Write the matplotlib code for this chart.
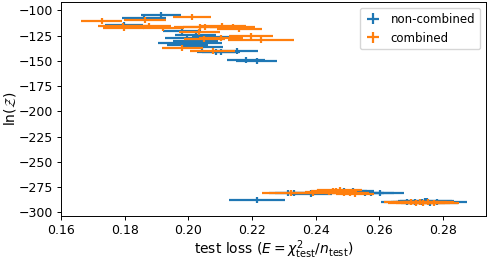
import matplotlib
matplotlib.use("Agg")
import matplotlib.pyplot as plt
import numpy as np

# non-combined (blue)
nc_x = [0.1913, 0.1860, 0.1797, 0.1981, 0.2023, 0.1997, 0.2081, 0.1965, 0.1997,
        0.2034, 0.2044, 0.2086, 0.2102, 0.2154, 0.2181, 0.2214, 0.2023,
        0.2215, 0.2312, 0.2333, 0.2385, 0.2490, 0.2517, 0.2553, 0.2574, 0.2601,
        0.2685, 0.2711, 0.2732, 0.2748, 0.2758, 0.2779, 0.2742]
nc_y = [-104.3, -107.5, -114.0, -120.4, -124.3, -127.0, -126.0, -132.4, -134.0,
        -132.4, -136.6, -141.5, -141.5, -139.8, -149.5, -150.2, -130.0,
        -287.8, -280.6, -280.6, -281.3, -279.0, -279.0, -280.6, -280.6, -280.6,
        -289.5, -289.3, -290.0, -289.0, -290.5, -289.5, -288.5]
nc_xerr = [0.0063, 0.0070, 0.0060, 0.0060, 0.0065, 0.0070, 0.0070, 0.0060, 0.0065,
           0.0070, 0.0065, 0.0060, 0.0060, 0.0065, 0.0060, 0.0065, 0.0070,
           0.0087, 0.0060, 0.0060, 0.0065, 0.0070, 0.0065, 0.0060, 0.0070, 0.0075,
           0.0080, 0.0075, 0.0080, 0.0085, 0.0090, 0.0095, 0.0085]
nc_yerr = [3.0] * len(nc_x)

# combined (orange)
c_x = [0.1728, 0.1864, 0.2011, 0.1795, 0.1876, 0.1921, 0.2035, 0.2052, 0.2107,
       0.2139, 0.2160, 0.2197, 0.2228, 0.2102, 0.2034, 0.1981, 0.2076, 0.1797, 0.2050,
       0.2322, 0.2390, 0.2440, 0.2455, 0.2465, 0.2475, 0.2490, 0.2506, 0.2522,
       0.2716, 0.2727, 0.2737, 0.2753, 0.2700, 0.2770]
c_y = [-110.4, -109.7, -106.5, -115.2, -115.2, -117.0, -116.0, -116.0, -115.0,
       -116.0, -118.5, -125.2, -129.0, -127.5, -121.0, -137.0, -140.5, -117.0, -128.0,
       -281.0, -280.5, -279.5, -278.5, -279.0, -278.0, -280.5, -281.0, -281.3,
       -290.5, -290.0, -291.0, -290.0, -289.5, -290.5]
c_xerr = [0.0065, 0.0065, 0.0060, 0.0080, 0.0070, 0.0065, 0.0080, 0.0070, 0.0075,
          0.0070, 0.0070, 0.0070, 0.0105, 0.0070, 0.0065, 0.0065, 0.0070, 0.0065, 0.0065,
          0.0090, 0.0080, 0.0075, 0.0070, 0.0065, 0.0070, 0.0060, 0.0060, 0.0060,
          0.0090, 0.0085, 0.0085, 0.0080, 0.0085, 0.0080]
c_yerr = [3.0] * len(c_x)

fig = plt.figure(figsize=(4.88, 2.6), dpi=100)
ax = fig.add_axes([0.125, 0.169, 0.871, 0.823])

ax.errorbar(nc_x, nc_y, xerr=nc_xerr, yerr=nc_yerr, fmt='none',
            ecolor='#1f77b4', elinewidth=1.6, label='non-combined')
ax.errorbar(c_x, c_y, xerr=c_xerr, yerr=c_yerr, fmt='none',
            ecolor='#ff7f0e', elinewidth=1.6, label='combined')

ax.set_xticks([0.16, 0.18, 0.20, 0.22, 0.24, 0.26, 0.28])
ax.set_yticks([-100, -125, -150, -175, -200, -225, -250, -275, -300])
ax.tick_params(labelsize=9, length=3, width=0.7, pad=3)
for s in ax.spines.values():
    s.set_linewidth(0.7)
ax.set_xlabel(r'test loss ($E = \chi^2_{\rm test}/n_{\rm test}$)', fontsize=10, labelpad=1)
ax.set_ylabel(r'$\ln(\mathcal{Z})$', fontsize=10, labelpad=0)
ax.legend(loc='upper right', fontsize=8.5, handlelength=1.4, framealpha=0.8)

fig.savefig('out.png', dpi=100)
